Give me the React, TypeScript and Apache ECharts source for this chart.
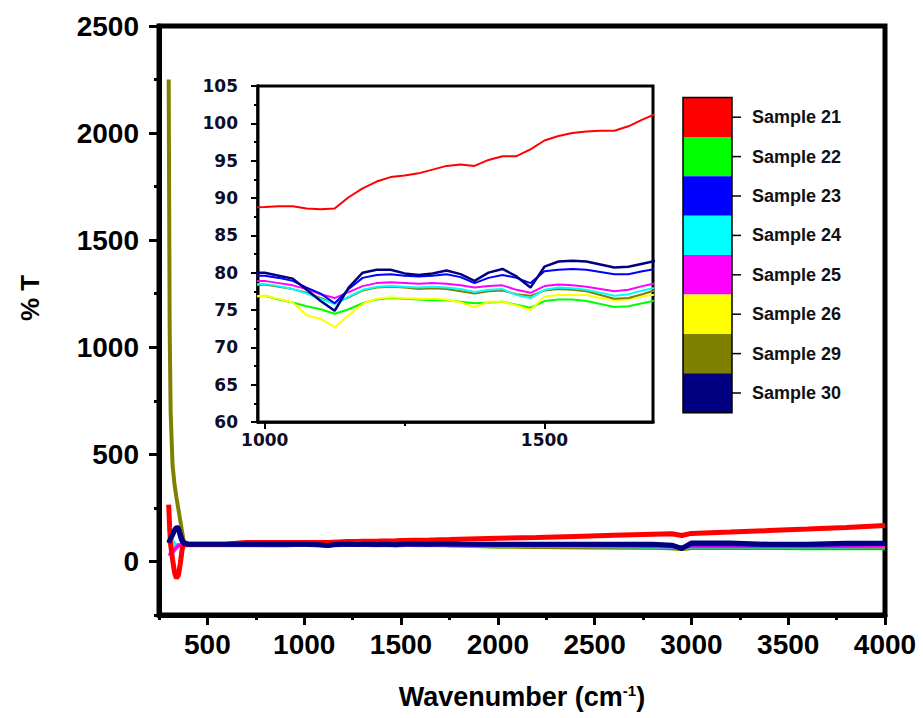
import React, { useEffect, useRef } from "react";
import * as echarts from "echarts";

// Wavenumber grid (cm-1) shared by all spectra
const WAVENUMBERS = [
  300, 305, 310, 320, 330, 340, 350, 360, 370, 380, 400, 500, 600, 700, 800, 900, 950,
  1000, 1025, 1050, 1075, 1100, 1125, 1150, 1175, 1200, 1225, 1250, 1275, 1300, 1325, 1350,
  1375, 1400, 1425, 1450, 1475, 1500, 1525, 1550, 1575, 1600, 1625, 1650, 1675, 1700,
  1750, 1800, 2000, 2200, 2400, 2600, 2800, 2900, 2950, 3000, 3200, 3400, 3600, 3800, 4000,
];

const SAMPLE_NAMES = ["Sample 21", "Sample 22", "Sample 23", "Sample 24", "Sample 25", "Sample 26", "Sample 29", "Sample 30"];
const SAMPLE_COLORS = ["#ff0000", "#00ff00", "#0000ff", "#00ffff", "#ff00ff", "#ffff00", "#808000", "#000080"];

const S21 = [
  265, 160, 80, 10, -50, -78, -65, -10, 60, 88, 82, 80, 82, 88, 88.5, 88.6, 88.7,
  88.8, 88.9, 88.9, 88.6, 88.5, 88.6, 90.1, 91.3, 92.2, 92.8, 93.0, 93.3, 93.8, 94.3, 94.5,
  94.3, 95.1, 95.6, 95.6, 96.5, 97.7, 98.3, 98.7, 98.9, 99.0, 99.0, 99.6, 100.5, 101.3,
  102.5, 104, 108, 112, 117, 122, 127, 129, 121, 131, 137, 144, 151, 159, 168,
];
const S22 = [
  72, 74, 76, 75, 74, 74, 75, 75, 75, 75, 76, 76, 76, 76, 74, 75, 76.5,
  76.9, 76.4, 76.0, 75.5, 75.1, 74.5, 75.1, 75.9, 76.4, 76.6, 76.5, 76.4, 76.3, 76.3, 76.1,
  75.9, 76.0, 76.1, 75.7, 75.3, 76.2, 76.4, 76.4, 76.2, 75.8, 75.4, 75.5, 75.9, 76.3,
  75, 73, 70, 68, 66, 65, 64, 62, 58, 63, 64, 63, 62, 62, 62,
];
const S23 = [
  85, 95, 105, 120, 140, 155, 145, 110, 88, 80, 79, 79, 79, 79, 79, 79.5, 79.6,
  79.6, 79.3, 78.9, 78.0, 77.2, 75.9, 77.8, 79.3, 79.7, 79.8, 79.6, 79.5, 79.6, 79.8, 79.4,
  78.6, 79.3, 79.7, 79.3, 78.6, 80.2, 80.4, 80.5, 80.4, 80.1, 79.8, 79.8, 80.2, 80.5,
  80.5, 80, 79, 78, 78, 78, 78, 74, 64, 80, 80, 78, 78, 80, 81,
];
const S24 = [
  155, 140, 120, 95, 82, 78, 77, 77, 77, 77, 77, 77, 77, 77, 77.5, 78, 78.3,
  78.5, 78.2, 77.8, 77.2, 76.5, 75.8, 76.8, 77.7, 78.1, 78.2, 78.1, 78.0, 78.1, 78.0, 77.8,
  77.4, 77.7, 77.8, 77.0, 76.6, 77.7, 78.0, 77.9, 77.7, 77.3, 76.9, 77.1, 77.6, 78.0,
  78, 77, 75, 73, 72, 71, 70, 68, 62, 70, 71, 70, 70, 70, 71,
];
const S25 = [
  38, 35, 38, 45, 55, 65, 74, 77, 78, 78, 78, 78, 78, 78, 78.3, 78.6, 78.8,
  78.9, 78.6, 78.3, 77.8, 77.1, 76.6, 77.4, 78.2, 78.6, 78.7, 78.6, 78.5, 78.6, 78.5, 78.3,
  78.0, 78.2, 78.3, 77.7, 77.3, 78.2, 78.4, 78.3, 78.1, 77.8, 77.5, 77.7, 78.2, 78.6,
  78.5, 78, 76, 75, 74, 73, 72, 70, 64, 72, 73, 72, 72, 72, 73,
];
const S26 = [
  80, 90, 98, 88, 78, 75, 74, 74, 75, 75, 75, 75, 75, 75, 76, 76.5, 76.8,
  76.9, 76.5, 76.0, 74.3, 73.8, 72.7, 74.3, 75.8, 76.5, 76.7, 76.6, 76.5, 76.5, 76.4, 76.0,
  75.4, 76.1, 76.1, 75.6, 75.0, 76.8, 77.0, 77.0, 77.0, 76.6, 76.3, 76.4, 76.8, 77.1,
  76, 75, 72, 70, 68, 66, 65, 63, 58, 64, 65, 64, 64, 64, 64,
];
const S29 = [
  2250, 1100, 700, 450, 360, 300, 245, 190, 135, 80, 77, 77, 77, 77, 77.5, 78, 78.2,
  78.4, 78.1, 77.8, 77.3, 76.6, 75.9, 76.7, 77.6, 78.0, 78.1, 78.0, 77.8, 77.9, 77.8, 77.5,
  77.2, 77.5, 77.6, 77.1, 76.9, 77.6, 77.8, 77.7, 77.5, 77.0, 76.5, 76.6, 77.1, 77.7,
  76, 74, 70, 68, 66, 65, 64, 62, 58, 63, 64, 63, 63, 63, 63,
];
const S30 = [
  88, 98, 108, 125, 145, 160, 155, 125, 100, 85, 80, 80, 80, 80, 80, 80, 80,
  80.0, 79.6, 79.2, 77.7, 76.2, 74.9, 78.0, 80.0, 80.4, 80.4, 79.9, 79.7, 79.9, 80.3, 79.8,
  78.9, 80.0, 80.5, 79.5, 78.0, 80.8, 81.5, 81.6, 81.5, 81.1, 80.7, 80.8, 81.2, 81.6,
  81.5, 81, 80, 80, 80, 80, 80, 76, 60, 86, 86, 80, 80, 85, 85,
];
const SAMPLE_VALUES = [S21, S22, S23, S24, S25, S26, S29, S30];
// drawing order (bottom to top)
const DRAW_ORDER = [1, 5, 6, 3, 4, 2, 0, 7];

// Tick values
const MAIN_X_MAJOR = [500, 1000, 1500, 2000, 2500, 3000, 3500, 4000];
const MAIN_X_MINOR = [250, 750, 1250, 1750, 2250, 2750, 3250, 3750];
const MAIN_Y_MAJOR = [0, 500, 1000, 1500, 2000, 2500];
const MAIN_Y_MINOR = [-250, 250, 750, 1250, 1750, 2250];
const INSET_X_MAJOR = [1000, 1500];
const INSET_X_MINOR = [1250];
const INSET_Y_MAJOR = [60, 65, 70, 75, 80, 85, 90, 95, 100, 105];
const INSET_Y_MINOR = [62.5, 67.5, 72.5, 77.5, 82.5, 87.5, 92.5, 97.5, 102.5];

const FONT = "'Liberation Sans', Arial, Helvetica, sans-serif";
const INSET_FONT = "'DejaVu Sans', Verdana, sans-serif";

function axisPair(kind: "x" | "y", gridIndex: number, min: number, max: number, major: number[], minor: number[], o: any) {
  const position = kind === "x" ? "bottom" : "left";
  const a = {
    type: "value",
    gridIndex,
    position,
    min,
    max,
    axisLine: { show: true, onZero: false, lineStyle: { color: "#000", width: o.lineWidth } },
    axisTick: { show: true, customValues: major, inside: false, length: o.majorLen, lineStyle: { color: "#000", width: o.tickWidth } },
    axisLabel: {
      show: true,
      customValues: major,
      margin: o.margin,
      color: o.labelColor,
      fontSize: o.fontSize,
      fontWeight: "bold",
      fontFamily: o.fontFamily,
      formatter: (v: number) => String(v),
    },
    splitLine: { show: false },
  };
  const b = {
    type: "value",
    gridIndex,
    position,
    min,
    max,
    axisLine: { show: false, onZero: false },
    axisTick: { show: true, customValues: minor, inside: false, length: o.minorLen, lineStyle: { color: "#000", width: o.tickWidth } },
    axisLabel: { show: false },
    splitLine: { show: false },
  };
  return [a, b];
}

export default function App() {
  const ref = useRef<HTMLDivElement>(null);

  useEffect(() => {
    if (!ref.current) return;
    const chart = echarts.init(ref.current, null, { renderer: "svg" });

    const mainOpts = { lineWidth: 5, majorLen: 10, minorLen: 5, tickWidth: 3, fontSize: 28, fontFamily: FONT, labelColor: "#000" };
    const insetOpts = { lineWidth: 3.5, majorLen: 7, minorLen: 4, tickWidth: 2, fontSize: 17, fontFamily: INSET_FONT, labelColor: "#0d0d26" };

    const xAxes = [
      ...axisPair("x", 0, 250, 4000, MAIN_X_MAJOR, MAIN_X_MINOR, { ...mainOpts, margin: 15 }),
      ...axisPair("x", 1, 988, 1694, INSET_X_MAJOR, INSET_X_MINOR, { ...insetOpts, margin: 9 }),
    ];
    const yAxes = [
      ...axisPair("y", 0, -250, 2500, MAIN_Y_MAJOR, MAIN_Y_MINOR, { ...mainOpts, margin: 20 }),
      ...axisPair("y", 1, 60, 105, INSET_Y_MAJOR, INSET_Y_MINOR, { ...insetOpts, margin: 20 }),
    ];

    const series: any[] = [];
    DRAW_ORDER.forEach((idx) => {
      const data = WAVENUMBERS.map((w, i) => [w, SAMPLE_VALUES[idx][i]]);
      series.push({
        type: "line",
        name: SAMPLE_NAMES[idx],
        xAxisIndex: 0,
        yAxisIndex: 0,
        data,
        showSymbol: false,
        symbol: "none",
        silent: true,
        clip: true,
        lineStyle: { color: SAMPLE_COLORS[idx], width: idx === 7 || idx === 0 ? 5 : 4 },
        z: 2,
      });
    });
    DRAW_ORDER.forEach((idx) => {
      const data = WAVENUMBERS.map((w, i) => [w, SAMPLE_VALUES[idx][i]]);
      series.push({
        type: "line",
        name: SAMPLE_NAMES[idx] + " (inset)",
        xAxisIndex: 2,
        yAxisIndex: 2,
        data,
        showSymbol: false,
        symbol: "none",
        silent: true,
        clip: true,
        lineStyle: { color: SAMPLE_COLORS[idx], width: idx === 7 ? 2.5 : 2 },
        z: 5,
      });
    });

    // Legend as stacked colour bar
    const legendX = 683;
    const legendTop = 97.5;
    const segH = 39.4;
    const legendW = 49;
    const legendEls: any[] = [];
    SAMPLE_NAMES.forEach((name, i) => {
      legendEls.push({
        type: "rect",
        shape: { x: legendX, y: legendTop + i * segH, width: legendW, height: segH },
        style: { fill: SAMPLE_COLORS[i], stroke: null },
        z: 10,
      });
      const cy = legendTop + i * segH + segH / 2;
      legendEls.push({
        type: "line",
        shape: { x1: legendX + legendW, y1: cy, x2: legendX + legendW + 9, y2: cy },
        style: { stroke: "#000", lineWidth: 1.5 },
        z: 10,
      });
      legendEls.push({
        type: "text",
        x: 752,
        y: cy,
        style: {
          text: name,
          fill: "#111",
          font: `bold 18px ${FONT}`,
          textAlign: "left",
          textVerticalAlign: "middle",
        },
        z: 10,
      });
    });
    legendEls.push({
      type: "rect",
      shape: { x: legendX, y: legendTop, width: legendW, height: segH * SAMPLE_NAMES.length },
      style: { fill: null, stroke: "#000", lineWidth: 1.5 },
      z: 11,
    });

    chart.setOption({
      animation: false,
      backgroundColor: "#fff",
      grid: [
        { left: 159, top: 26, width: 726, height: 589, show: true, borderColor: "#000", borderWidth: 5, backgroundColor: "transparent", containLabel: false },
        { left: 258, top: 86, width: 395, height: 336, show: true, borderColor: "#000", borderWidth: 3, backgroundColor: "#fff", containLabel: false, z: 4 },
      ],
      xAxis: xAxes,
      yAxis: yAxes,
      series,
      graphic: [
        {
          type: "text",
          x: 30,
          y: 298,
          rotation: Math.PI / 2,
          style: {
            text: "% T",
            fill: "#000",
            font: `bold 26px ${FONT}`,
            textAlign: "center",
            textVerticalAlign: "middle",
          },
        },
        {
          type: "text",
          x: 522,
          y: 697,
          style: {
            text: "{a|Wavenumber (cm}{s|-1}{a|)}",
            fill: "#000",
            textAlign: "center",
            textVerticalAlign: "middle",
            rich: {
              a: { fontSize: 27, fontWeight: "bold", fontFamily: FONT, fill: "#000" },
              s: { fontSize: 15, fontWeight: "bold", fontFamily: FONT, fill: "#000", padding: [0, 0, 14, 0] },
            },
          },
        },
        ...legendEls,
      ],
    });

    return () => chart.dispose();
  }, []);

  return <div ref={ref} style={{ width: 923, height: 718, position: "absolute", left: 0, top: 0 }} />;
}
